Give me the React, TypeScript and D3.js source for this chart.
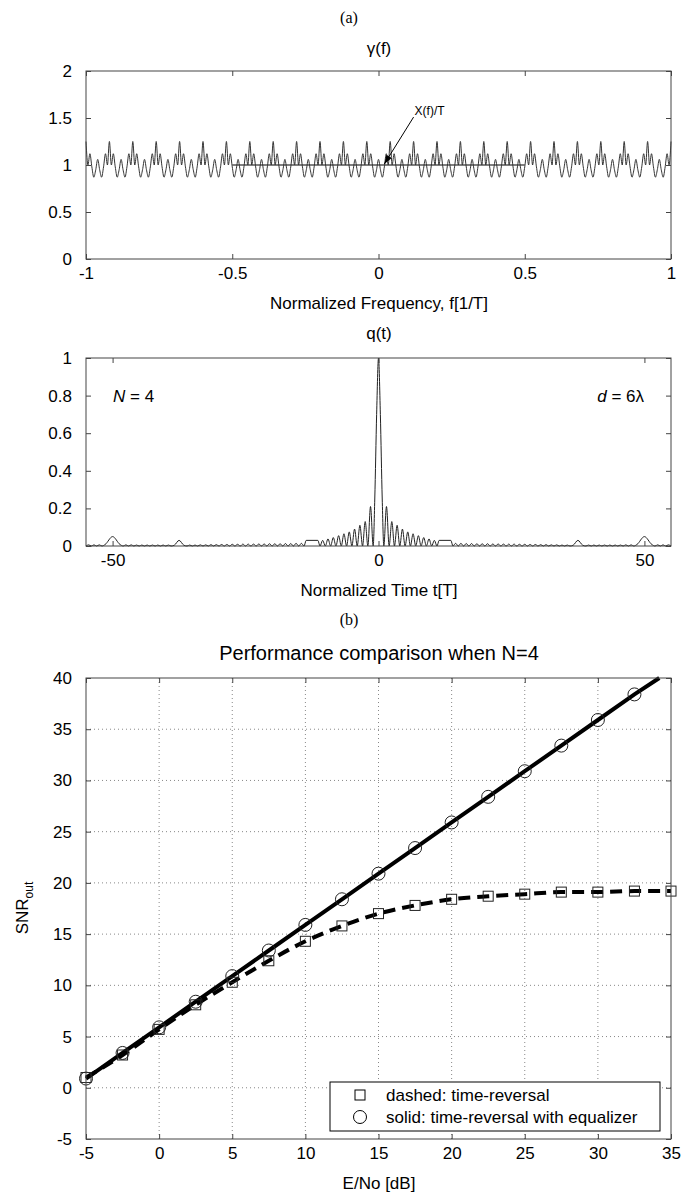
import React, { useRef, useEffect } from "react";
import * as d3 from "d3";

const W = 682;
const H = 1193;
const FONT = "'Liberation Sans', Arial, Helvetica, sans-serif";

// ---- (a) upper panel: gamma(f)
const gammaXTicks = [-1, -0.5, 0, 0.5, 1];
const gammaYTicks = [0, 0.5, 1, 1.5, 2];
// one period of gamma(f) (12 samples), the plot repeats it over [-1, 1]
const gammaPeriod = [1.25, 1.0, 1.12, 0.98, 0.87, 0.95, 1.06, 0.95, 0.87, 0.98, 1.12, 1.0];
const gammaPeriodWidth = 0.08;
const gammaPeriodCount = 25;
const xfOverT = [[-0.5, 1], [0.5, 1]];
const xfArrowFrom = [0.12, 1.51];
const xfArrowTo = [0.02, 1.01];

// ---- (a) lower panel: q(t), right half (mirrored for t < 0)
const qXTicks = [-50, 0, 50];
const qYTicks = [0, 0.2, 0.4, 0.6, 0.8, 1];
const qMainLobe = [[0, 1], [0.35, 0.7], [0.7, 0.25], [1, 0]];
const qSideLobes = [0.21, 0.13, 0.11, 0.09, 0.075, 0.065, 0.055, 0.045, 0.038, 0.03]; // t = 1..11
const qShelf = [[11.4, 0.03], [13.6, 0.03], [14, 0]];
const qRippleA = [0.014, 0.014, 0.013, 0.013, 0.012, 0.012, 0.012, 0.011, 0.011, 0.01, 0.01,
  0.01, 0.009, 0.009, 0.008, 0.008, 0.007, 0.007, 0.006, 0.006, 0.005, 0.005]; // t = 14..36
const qBumpA = [[36.6, 0.004], [37.5, 0.03], [38.4, 0.004], [39, 0]];
const qRippleB = [0.005, 0.005, 0.005, 0.005, 0.005, 0.005, 0.005, 0.006, 0.006]; // t = 39..48
const qBumpB = [[48.6, 0.008], [50, 0.05], [51.4, 0.008], [52, 0]];
const qRippleC = [0.006, 0.006, 0.006]; // t = 52..55

// ---- (b) performance comparison
const snrXTicks = [-5, 0, 5, 10, 15, 20, 25, 30, 35];
const snrYTicks = [-5, 0, 5, 10, 15, 20, 25, 30, 35, 40];
const trX = [-5, -2.5, 0, 2.5, 5, 7.5, 10, 12.5, 15, 17.5, 20, 22.5, 25, 27.5, 30, 32.5, 35];
const trSnr = [1.0, 3.2, 5.7, 8.1, 10.3, 12.4, 14.3, 15.8, 17.0, 17.8, 18.4, 18.7, 18.9, 19.1, 19.1, 19.2, 19.2];
const eqX = [-5, -2.5, 0, 2.5, 5, 7.5, 10, 12.5, 15, 17.5, 20, 22.5, 25, 27.5, 30, 32.5];
const eqSnr = [0.9, 3.4, 5.9, 8.4, 10.9, 13.4, 15.9, 18.4, 20.9, 23.4, 25.9, 28.4, 30.9, 33.4, 35.9, 38.4];
const eqLineEnd = [34.2, 40];
const legendItems = ["dashed: time-reversal", "solid: time-reversal with equalizer"];

const lobes = (start, heights) =>
  heights.flatMap((h, i) => [[start + i + 0.5, h], [start + i + 1, 0]]);

// draws the box, inward ticks on all four sides, tick labels
function frame(g, x, y, xTicks, yTicks) {
  const fmt = (d) => String(d);
  const [x0, x1] = x.range();
  const [y0, y1] = y.range();
  const style = (a) => {
    a.select(".domain").remove();
    a.selectAll("line").attr("stroke", "#444");
    a.selectAll("text").attr("fill", "#000").attr("font-size", 17).attr("font-family", FONT);
  };
  g.append("g").attr("transform", `translate(0,${y0})`)
    .call(d3.axisBottom(x).tickValues(xTicks).tickSize(-5).tickPadding(8).tickFormat(fmt)).call(style);
  g.append("g").attr("transform", `translate(0,${y1})`)
    .call(d3.axisTop(x).tickValues(xTicks).tickSize(-5).tickFormat(() => "")).call(style);
  g.append("g").attr("transform", `translate(${x0},0)`)
    .call(d3.axisLeft(y).tickValues(yTicks).tickSize(-5).tickPadding(14).tickFormat(fmt)).call(style);
  g.append("g").attr("transform", `translate(${x1},0)`)
    .call(d3.axisRight(y).tickValues(yTicks).tickSize(-5).tickFormat(() => "")).call(style);
  g.append("rect")
    .attr("x", x0).attr("y", y1).attr("width", x1 - x0).attr("height", y0 - y1)
    .attr("fill", "none").attr("stroke", "#444").attr("stroke-width", 1);
}

function label(svg, text, x, y, size = 17, family = FONT) {
  return svg.append("text").attr("x", x).attr("y", y).attr("text-anchor", "middle")
    .attr("font-size", size).attr("font-family", family).text(text);
}

const App = () => {
  const svgRef = useRef();

  useEffect(() => {
    const svg = d3.select(svgRef.current);
    svg.selectAll("*").remove();

    const left = 86;
    const right = 671;

    svg.append("defs").append("marker")
      .attr("id", "arrow").attr("viewBox", "0 0 10 10").attr("refX", 10).attr("refY", 5)
      .attr("markerWidth", 9).attr("markerHeight", 9).attr("orient", "auto")
      .append("path").attr("d", "M0,1.5L10,5L0,8.5Z").attr("fill", "#000");

    // ---------- gamma(f)
    label(svg, "(a)", 349, 23, 16, "'Liberation Serif', 'Times New Roman', serif");
    const gx = d3.scaleLinear().domain([-1, 1]).range([left, right]);
    const gy = d3.scaleLinear().domain([0, 2]).range([259, 71]);
    const gammaData = d3.range(gammaPeriodCount * gammaPeriod.length + 1).map((i) => [
      -1 + (i * gammaPeriodWidth) / gammaPeriod.length,
      gammaPeriod[i % gammaPeriod.length],
    ]);
    const gLine = d3.line().x((d) => gx(d[0])).y((d) => gy(d[1]));
    const top = svg.append("g");
    top.append("path").datum(xfOverT).attr("d", gLine).attr("fill", "none")
      .attr("stroke", "#555").attr("stroke-width", 1.4);
    top.append("path").datum(gammaData).attr("d", gLine.curve(d3.curveMonotoneX)).attr("fill", "none")
      .attr("stroke", "#333").attr("stroke-width", 1);
    top.append("line")
      .attr("x1", gx(xfArrowFrom[0])).attr("y1", gy(xfArrowFrom[1]))
      .attr("x2", gx(xfArrowTo[0])).attr("y2", gy(xfArrowTo[1]))
      .attr("stroke", "#000").attr("stroke-width", 1).attr("marker-end", "url(#arrow)");
    top.append("text").attr("x", gx(xfArrowFrom[0]) + 1).attr("y", gy(xfArrowFrom[1]) - 2)
      .attr("font-size", 12).attr("font-family", FONT).text("X(f)/T");
    frame(top, gx, gy, gammaXTicks, gammaYTicks);
    label(svg, "\u03b3(f)", 379, 54);
    label(svg, "Normalized Frequency, f[1/T]", 379, 309);

    // ---------- q(t)
    const qx = d3.scaleLinear().domain([-55, 55]).range([left, right]);
    const qy = d3.scaleLinear().domain([0, 1]).range([546, 358]);
    const qPos = [
      ...qMainLobe,
      ...lobes(1, qSideLobes),
      ...qShelf,
      ...lobes(14, qRippleA),
      ...qBumpA,
      ...lobes(39, qRippleB),
      ...qBumpB,
      ...lobes(52, qRippleC),
    ];
    const qData = [...qPos.slice(1).map(([t, v]) => [-t, v]).reverse(), ...qPos];
    const mid = svg.append("g");
    mid.append("path").datum(qData)
      .attr("d", d3.line().x((d) => qx(d[0])).y((d) => qy(d[1])).curve(d3.curveMonotoneX))
      .attr("fill", "none").attr("stroke", "#222").attr("stroke-width", 1);
    frame(mid, qx, qy, qXTicks, qYTicks);
    const n4 = mid.append("text").attr("x", 113).attr("y", qy(0.8) + 6)
      .attr("font-size", 17).attr("font-family", FONT);
    n4.append("tspan").attr("font-style", "italic").text("N");
    n4.append("tspan").text(" = 4");
    const d6 = mid.append("text").attr("x", 644).attr("y", qy(0.8) + 6).attr("text-anchor", "end")
      .attr("font-size", 17).attr("font-family", FONT);
    d6.append("tspan").attr("font-style", "italic").text("d");
    d6.append("tspan").text(" = 6\u03bb");
    label(svg, "q(t)", 379, 339);
    label(svg, "Normalized Time t[T]", 379, 596);

    // ---------- (b) performance comparison
    label(svg, "(b)", 349, 625, 16, "'Liberation Serif', 'Times New Roman', serif");
    const sx = d3.scaleLinear().domain([-5, 35]).range([left, right]);
    const sy = d3.scaleLinear().domain([-5, 40]).range([1139, 678]);
    const bot = svg.append("g");
    // dotted grid
    bot.append("g").selectAll("line").data(snrXTicks.slice(1, -1)).join("line")
      .attr("x1", (d) => sx(d)).attr("x2", (d) => sx(d)).attr("y1", 678).attr("y2", 1139)
      .attr("stroke", "#888").attr("stroke-width", 1).attr("stroke-dasharray", "1,3");
    bot.append("g").selectAll("line").data(snrYTicks.slice(1, -1)).join("line")
      .attr("x1", left).attr("x2", right).attr("y1", (d) => sy(d)).attr("y2", (d) => sy(d))
      .attr("stroke", "#888").attr("stroke-width", 1).attr("stroke-dasharray", "1,3");

    const tr = trX.map((x, i) => [x, trSnr[i]]);
    const eq = eqX.map((x, i) => [x, eqSnr[i]]);
    const sLine = d3.line().x((d) => sx(d[0])).y((d) => sy(d[1]));
    bot.append("path").datum(tr).attr("d", sLine.curve(d3.curveMonotoneX)).attr("fill", "none")
      .attr("stroke", "#000").attr("stroke-width", 4).attr("stroke-dasharray", "12,7");
    bot.append("path").datum([...eq, eqLineEnd]).attr("d", sLine.curve(d3.curveLinear)).attr("fill", "none")
      .attr("stroke", "#000").attr("stroke-width", 4);
    bot.append("g").selectAll("rect").data(tr).join("rect")
      .attr("x", (d) => sx(d[0]) - 5).attr("y", (d) => sy(d[1]) - 5)
      .attr("width", 10).attr("height", 10)
      .attr("fill", "none").attr("stroke", "#222").attr("stroke-width", 1);
    bot.append("g").selectAll("circle").data(eq).join("circle")
      .attr("cx", (d) => sx(d[0])).attr("cy", (d) => sy(d[1])).attr("r", 6.5)
      .attr("fill", "none").attr("stroke", "#222").attr("stroke-width", 1);
    frame(bot, sx, sy, snrXTicks, snrYTicks);

    // legend
    const lg = bot.append("g").attr("transform", "translate(330,1082)");
    lg.append("rect").attr("width", 330).attr("height", 49)
      .attr("fill", "#fff").attr("stroke", "#000").attr("stroke-width", 1);
    legendItems.forEach((t, i) => {
      const cy = 13 + i * 22;
      if (i === 0) {
        lg.append("rect").attr("x", 25).attr("y", cy - 5).attr("width", 10).attr("height", 10)
          .attr("fill", "none").attr("stroke", "#000");
      } else {
        lg.append("circle").attr("cx", 30).attr("cy", cy).attr("r", 6.5)
          .attr("fill", "none").attr("stroke", "#000");
      }
      lg.append("text").attr("x", 56).attr("y", cy + 6)
        .attr("font-size", 17).attr("font-family", FONT).text(t);
    });

    label(svg, "Performance comparison when N=4", 379, 660, 20);
    label(svg, "E/No [dB]", 379, 1189);
    const yl = svg.append("text").attr("transform", "translate(28,908) rotate(-90)")
      .attr("text-anchor", "middle").attr("font-size", 17).attr("font-family", FONT);
    yl.append("tspan").text("SNR");
    yl.append("tspan").attr("font-size", 12).attr("dy", 5).text("out");
  }, []);

  return (
    <svg ref={svgRef} width={W} height={H}
      style={{ position: "absolute", left: 0, top: 0, background: "#fff" }} />
  );
};

export default App;
